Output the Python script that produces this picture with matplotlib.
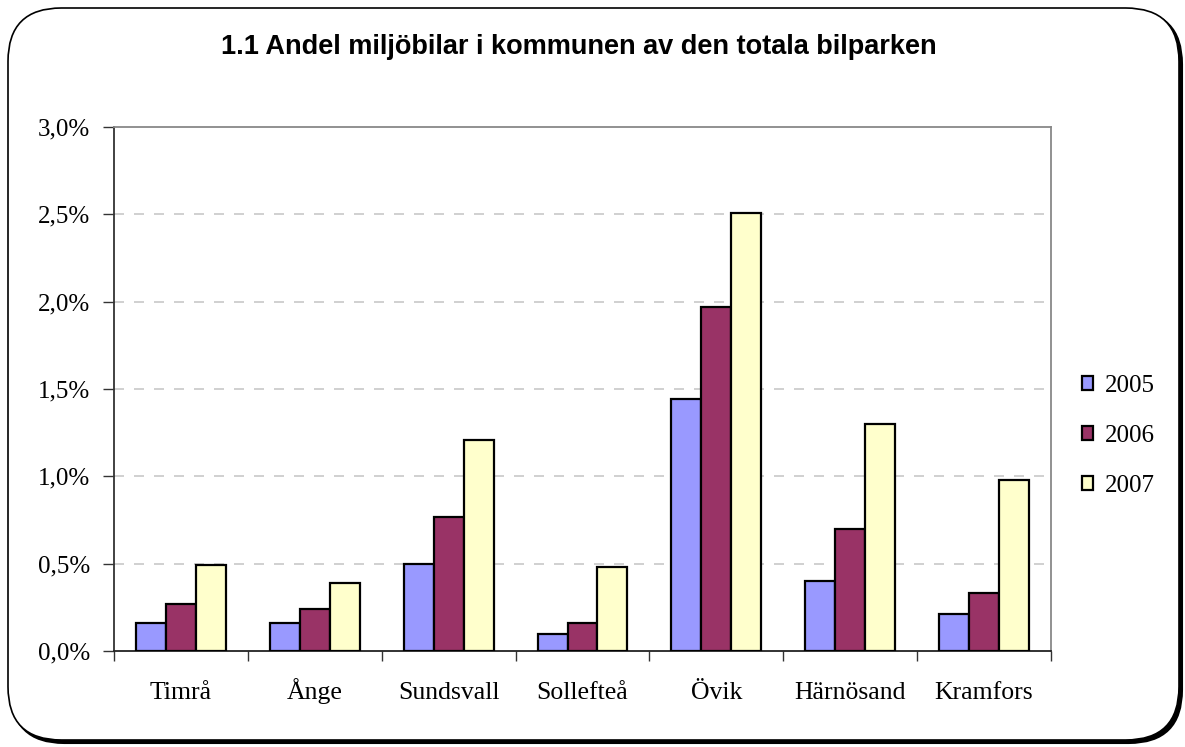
import matplotlib
matplotlib.use("Agg")
import matplotlib.pyplot as plt
import numpy as np
from matplotlib.patches import FancyBboxPatch
from matplotlib.ticker import FuncFormatter, MultipleLocator
from matplotlib.transforms import blended_transform_factory

categories = ["Timrå", "Ånge", "Sundsvall", "Sollefteå", "Övik", "Härnösand", "Kramfors"]
years = ["2005", "2006", "2007"]
v2005 = [0.16, 0.16, 0.50, 0.10, 1.44, 0.40, 0.21]
v2006 = [0.27, 0.24, 0.77, 0.16, 1.97, 0.70, 0.33]
v2007 = [0.49, 0.39, 1.21, 0.48, 2.51, 1.30, 0.98]
colors = ["#9999FF", "#993366", "#FFFFCC"]
title = "1.1 Andel miljöbilar i kommunen av den totala bilparken"

W, H = 1185, 747
fig = plt.figure(figsize=(W / 100, H / 100), dpi=100)
fig.patch.set_facecolor("white")

def fx(px):
    return px / W

def fy(py):
    return 1 - py / H

shadow = FancyBboxPatch((fx(11), fy(743)), fx(1171), (743 - 11) / H,
                        boxstyle="round,pad=0,rounding_size=0.045",
                        transform=fig.transFigure, facecolor="black",
                        edgecolor="black", linewidth=1.5, zorder=0,
                        mutation_aspect=W / H)
fig.patches.append(shadow)
border = FancyBboxPatch((fx(8), fy(740)), fx(1171), (740 - 8) / H,
                        boxstyle="round,pad=0,rounding_size=0.045",
                        transform=fig.transFigure, facecolor="white",
                        edgecolor="black", linewidth=1.2, zorder=1,
                        mutation_aspect=W / H)
fig.patches.append(border)

ax = fig.add_axes([114 / W, 1 - 651 / H, (1051 - 114) / W, (651 - 127) / H])
ax.set_zorder(2)
ax.set_facecolor("white")

x = np.arange(len(categories))
bw = 0.224
series = [v2005, v2006, v2007]
for i, (vals, c, lab) in enumerate(zip(series, colors, years)):
    ax.bar(x + (i - 1) * bw, vals, width=bw, color=c, edgecolor="black",
           linewidth=1.6, label=lab, zorder=3)

ax.set_xlim(-0.5, len(categories) - 0.5)
ax.set_ylim(0, 3.0)
ax.yaxis.set_major_locator(MultipleLocator(0.5))
ax.yaxis.set_major_formatter(FuncFormatter(lambda v, p: f"{v:.1f}%".replace(".", ",")))
ax.set_xticks(np.arange(len(categories) + 1) - 0.5)
ax.set_xticklabels([])
ax.tick_params(axis="x", which="major", direction="out", length=7, width=1, color="#333333")
ax.tick_params(axis="y", direction="out", length=8, width=1, color="#333333", pad=9)
for lbl in ax.get_yticklabels():
    lbl.set_fontfamily("Liberation Serif")
    lbl.set_fontsize(18)

trans = blended_transform_factory(ax.transData, ax.transAxes)
for xi, name in zip(x, categories):
    ax.text(xi, (651 - 699) / 524, name, transform=trans, ha="center",
            va="baseline", fontfamily="Liberation Serif", fontsize=18.5)

for yv in [0.5, 1.0, 1.5, 2.0, 2.5]:
    ax.axhline(yv, color="#c8c8c8", linestyle=(0, (6, 6)), linewidth=1.2, zorder=1)

ax.spines["left"].set_color("#333333")
ax.spines["bottom"].set_color("#222222")
ax.spines["top"].set_color("#888888")
ax.spines["right"].set_color("#888888")
for s in ax.spines.values():
    s.set_linewidth(1.3)

leg = fig.legend(loc="center left", bbox_to_anchor=(1072 / W, 1 - 436 / H),
                 frameon=False, prop={"family": "Liberation Serif", "size": 18},
                 handlelength=0.45, handleheight=0.45, handletextpad=0.45,
                 labelspacing=1.12, borderaxespad=0)

fig.text(579 / W, 1 - 47 / H, title, ha="center", va="center",
         fontfamily="Liberation Sans", fontweight="bold", fontsize=19.5, zorder=3)

fig.savefig("out.png", dpi=100, facecolor="white")
